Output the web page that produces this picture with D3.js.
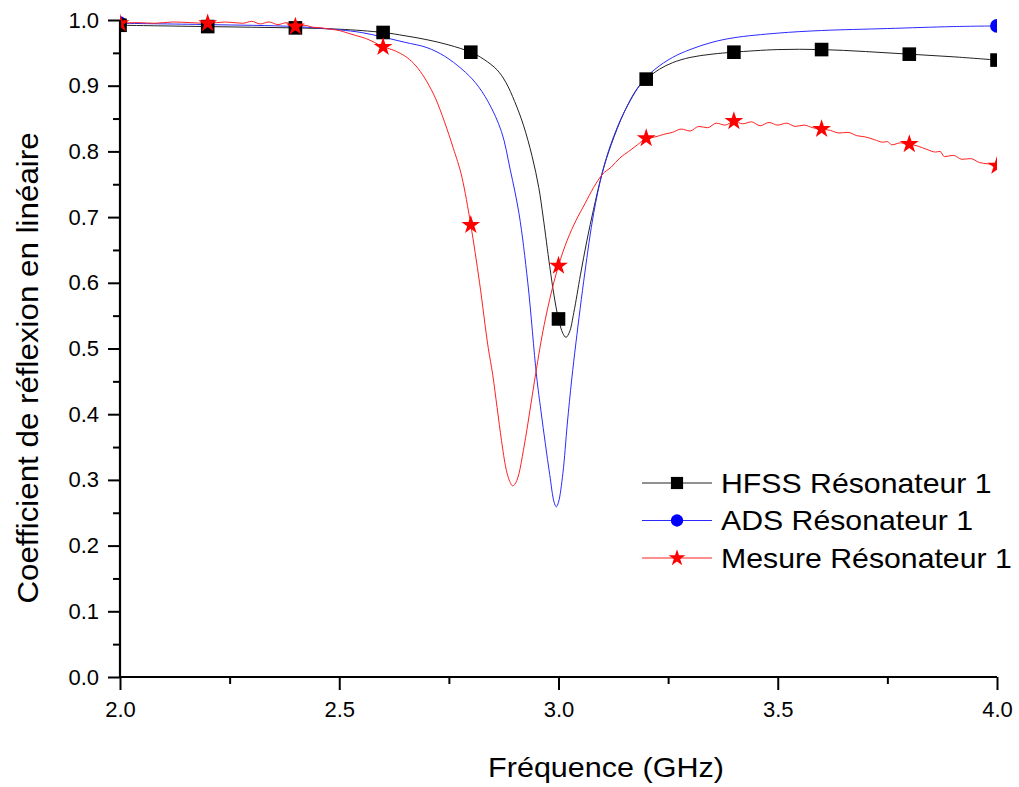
<!DOCTYPE html>
<html>
<head>
<meta charset="utf-8">
<script src="https://cdn.jsdelivr.net/npm/d3@7"></script>
<style>
  html, body { margin: 0; padding: 0; background: #fff; }
  svg { display: block; }
  text { font-family: "Liberation Sans", Arial, sans-serif; fill: #000; }
</style>
</head>
<body>
<svg id="chart" width="1019" height="787"></svg>
<script>
// ---------------- DATA ----------------
const xTicks = [2.0, 2.5, 3.0, 3.5, 4.0];
const yTicks = [0.0, 0.1, 0.2, 0.3, 0.4, 0.5, 0.6, 0.7, 0.8, 0.9, 1.0];
const seriesNames = ["HFSS Résonateur 1", "ADS Résonateur 1", "Mesure Résonateur 1"];

const hfssFreq = [2.00,2.10,2.20,2.30,2.40,2.50,2.60,2.65,2.70,2.75,2.80,2.83,2.86,2.88,2.90,2.92,2.94,2.955,2.965,2.98,2.99,3.00,3.01,3.017,3.025,3.035,3.05,3.065,3.08,3.10,3.12,3.15,3.18,3.20,3.23,3.26,3.30,3.35,3.40,3.50,3.60,3.70,3.80,3.90,4.00];
const hfssVal  = [0.992,0.991,0.990,0.989,0.988,0.986,0.981,0.976,0.970,0.962,0.951,0.940,0.924,0.905,0.876,0.840,0.792,0.745,0.700,0.625,0.580,0.545,0.523,0.517,0.525,0.555,0.612,0.665,0.712,0.768,0.810,0.860,0.896,0.910,0.925,0.935,0.943,0.948,0.951,0.955,0.955,0.952,0.948,0.944,0.939];
const hfssMarkers = [2.0,2.2,2.4,2.6,2.8,3.0,3.2,3.4,3.6,3.8,4.0];

const adsFreq = [2.00,2.20,2.40,2.50,2.55,2.60,2.65,2.70,2.74,2.78,2.81,2.84,2.87,2.89,2.91,2.93,2.95,2.96,2.97,2.98,2.99,2.995,3.00,3.01,3.02,3.03,3.04,3.06,3.08,3.10,3.12,3.15,3.19,3.22,3.26,3.30,3.35,3.40,3.50,3.60,3.75,3.90,4.00];
const adsVal  = [0.995,0.993,0.990,0.985,0.981,0.974,0.966,0.958,0.945,0.925,0.905,0.875,0.830,0.772,0.705,0.600,0.458,0.405,0.355,0.308,0.266,0.259,0.266,0.310,0.385,0.452,0.510,0.615,0.705,0.768,0.812,0.860,0.905,0.925,0.943,0.955,0.966,0.973,0.980,0.984,0.987,0.990,0.991];
const adsMarkers = [2.0,4.0];

const mesFreq = [2.00,2.04,2.08,2.12,2.16,2.20,2.24,2.28,2.30,2.32,2.34,2.36,2.38,2.40,2.42,2.44,2.46,2.48,2.50,2.52,2.54,2.56,2.58,2.60,2.62,2.64,2.66,2.68,2.70,2.72,2.74,2.76,2.78,2.80,2.82,2.84,2.85,2.86,2.87,2.88,2.89,2.895,2.90,2.91,2.92,2.93,2.94,2.95,2.96,2.98,3.00,3.02,3.04,3.06,3.08,3.10,3.12,3.14,3.16,3.18,3.20,3.22,3.24,3.26,3.28,3.30,3.32,3.34,3.36,3.38,3.40,3.42,3.44,3.46,3.48,3.50,3.52,3.54,3.56,3.58,3.60,3.62,3.64,3.66,3.68,3.70,3.72,3.74,3.75,3.76,3.78,3.80,3.82,3.84,3.86,3.87,3.88,3.90,3.92,3.94,3.96,3.98,4.00];
const mesVal  = [0.995,0.996,0.995,0.997,0.996,0.995,0.997,0.995,0.998,0.994,0.997,0.993,0.996,0.990,0.992,0.989,0.988,0.986,0.984,0.980,0.976,0.972,0.966,0.959,0.955,0.949,0.940,0.926,0.906,0.880,0.845,0.805,0.760,0.688,0.600,0.500,0.460,0.410,0.360,0.318,0.296,0.291,0.293,0.310,0.345,0.385,0.428,0.470,0.510,0.575,0.626,0.665,0.695,0.720,0.745,0.765,0.776,0.790,0.800,0.810,0.820,0.822,0.826,0.829,0.834,0.831,0.838,0.836,0.843,0.840,0.846,0.842,0.845,0.839,0.844,0.840,0.843,0.838,0.840,0.836,0.834,0.832,0.828,0.829,0.824,0.822,0.818,0.814,0.815,0.810,0.813,0.811,0.808,0.803,0.799,0.800,0.792,0.794,0.788,0.789,0.783,0.781,0.778];
const mesMarkers = [2.0,2.2,2.4,2.6,2.8,3.0,3.2,3.4,3.6,3.8,4.0];

// ---------------- CHART ----------------
const W = 1019, H = 787;
const margin = {left: 120, top: 20, right: 22, bottom: 110};
const svg = d3.select("#chart");
const x = d3.scaleLinear().domain([2.0, 4.0]).range([margin.left, W - margin.right]);
const y = d3.scaleLinear().domain([0.0, 1.0]).range([H - margin.bottom, margin.top]);

svg.append("defs").append("clipPath").attr("id", "plotclip")
  .append("rect").attr("x", x(2.0)).attr("y", 0)
  .attr("width", x(4.0) - x(2.0)).attr("height", y(0));

const series = [
  {name: seriesNames[0], f: hfssFreq, v: hfssVal, m: hfssMarkers, color: "#000000", line: "#222", sym: d3.symbolSquare, size: 185, curve: d3.curveCatmullRom},
  {name: seriesNames[1], f: adsFreq, v: adsVal, m: adsMarkers, color: "#0000ff", line: "#2a2aff", sym: d3.symbolCircle, size: 150, curve: d3.curveCatmullRom},
  {name: seriesNames[2], f: mesFreq, v: mesVal, m: mesMarkers, color: "#ff0000", line: "#ff2020", sym: d3.symbolStar, size: 110, curve: d3.curveMonotoneX}
];

const plot = svg.append("g").attr("clip-path", "url(#plotclip)");
series.forEach(s => {
  const pts = s.f.map((f, i) => [f, s.v[i]]);
  const line = d3.line().x(d => x(d[0])).y(d => y(d[1])).curve(s.curve);
  plot.append("path").datum(pts).attr("d", line)
    .attr("fill", "none").attr("stroke", s.line).attr("stroke-width", 1);
});
[1, 0, 2].forEach(k => {
  const s = series[k];
  const pts = s.f.map((f, i) => [f, s.v[i]]).filter(d => s.m.some(m => Math.abs(m - d[0]) < 1e-9));
  plot.selectAll(null).data(pts).enter().append("path")
    .attr("d", d3.symbol().type(s.sym).size(s.size))
    .attr("transform", d => `translate(${x(d[0])},${y(d[1])})`)
    .attr("fill", s.color);
});

// Axes
const xAxis = d3.axisBottom(x).tickValues(xTicks).tickFormat(d3.format(".1f")).tickSize(13).tickPadding(11);
const xMinor = d3.axisBottom(x).tickValues([2.25, 2.75, 3.25, 3.75]).tickFormat("").tickSize(7);
const yAxis = d3.axisLeft(y).tickValues(yTicks).tickFormat(d3.format(".1f")).tickSize(12).tickPadding(9);
const yMinor = d3.axisLeft(y).tickValues(d3.range(0.05, 1.0, 0.1)).tickFormat("").tickSize(7);

function styleAxis(g) {
  g.select(".domain").attr("stroke", "#000").attr("stroke-width", 2.2);
  g.selectAll(".tick line").attr("stroke", "#000").attr("stroke-width", 2);
  g.selectAll(".tick text").style("font-size", "22px").attr("fill", "#000");
}
const gx = svg.append("g").attr("transform", `translate(0,${y(0)})`).call(xAxis).call(styleAxis);
gx.select(".domain").attr("d", `M${x(2.0)},0H${x(4.0)}`);
svg.append("g").attr("transform", `translate(0,${y(0)})`).call(xMinor).call(styleAxis).select(".domain").remove();
const gy = svg.append("g").attr("transform", `translate(${x(2.0)},0)`).call(yAxis).call(styleAxis);
gy.select(".domain").attr("d", `M0,${y(1.0)}V${y(0)}`);
svg.append("g").attr("transform", `translate(${x(2.0)},0)`).call(yMinor).call(styleAxis).select(".domain").remove();

// slight horizontal widening of large labels, as in the reference
function widen(sel, k) {
  sel.each(function() {
    const len = this.getComputedTextLength();
    d3.select(this).attr("textLength", len * k).attr("lengthAdjust", "spacingAndGlyphs");
  });
}

// Axis titles
svg.append("text").attr("x", 606).attr("y", 777).attr("text-anchor", "middle")
  .style("font-size", "28px").text("Fréquence (GHz)").call(widen, 1.09);
svg.append("text").attr("transform", "translate(38,368) rotate(-90)").attr("text-anchor", "middle")
  .style("font-size", "29px").text("Coefficient de réflexion en linéaire").call(widen, 1.08);

// Legend
const lg = svg.append("g");
series.forEach((s, i) => {
  const cy = 483 + i * 37.5;
  lg.append("line").attr("x1", 642).attr("x2", 712).attr("y1", cy).attr("y2", cy)
    .attr("stroke", s.line).attr("stroke-width", 1);
  lg.append("path").attr("d", d3.symbol().type(s.sym).size(s.size * 0.8))
    .attr("transform", `translate(677,${cy})`).attr("fill", s.color);
  lg.append("text").attr("x", 721).attr("y", cy + 9.5).style("font-size", "28px").text(s.name).call(widen, 1.08);
});
</script>
</body>
</html>
